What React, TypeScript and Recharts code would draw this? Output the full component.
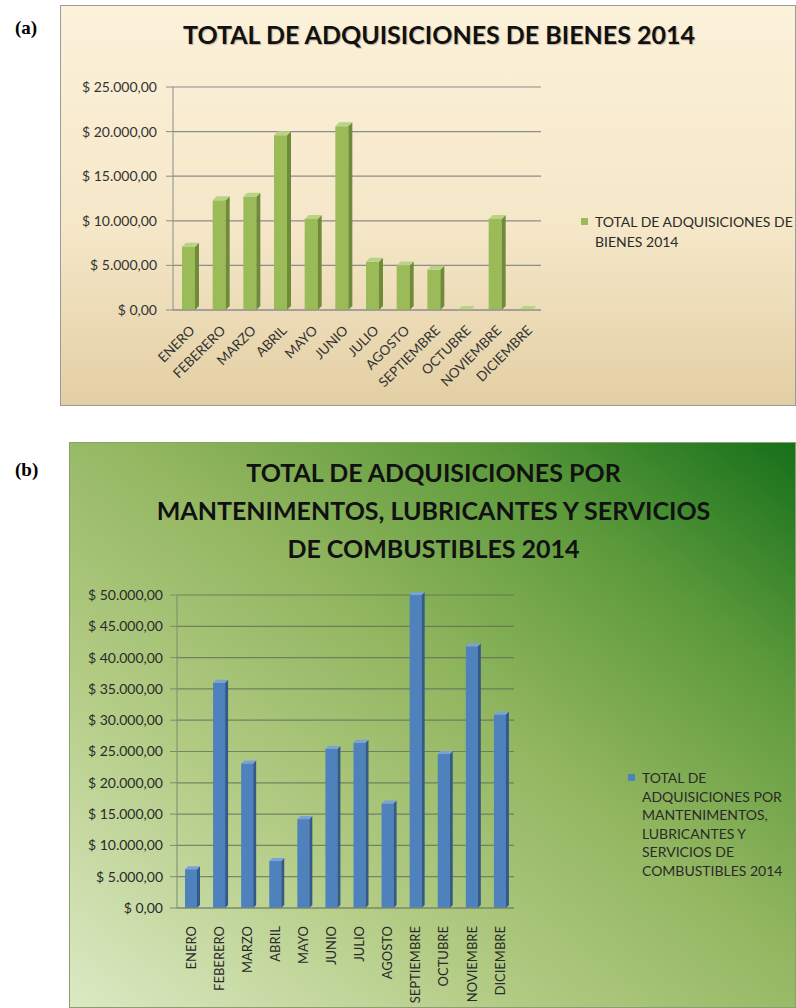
import React from "react";
import { BarChart, Bar, XAxis, YAxis, CartesianGrid, Legend } from "recharts";

const MONTHS = [
  "ENERO",
  "FEBERERO",
  "MARZO",
  "ABRIL",
  "MAYO",
  "JUNIO",
  "JULIO",
  "AGOSTO",
  "SEPTIEMBRE",
  "OCTUBRE",
  "NOVIEMBRE",
  "DICIEMBRE",
];

// (a) bienes
const BIENES_2014 = [7100, 12300, 12700, 19600, 10200, 20600, 5400, 5000, 4500, 0, 10200, 0];
const BIENES_TICKS = [0, 5000, 10000, 15000, 20000, 25000];
const TITLE_A = "TOTAL DE ADQUISICIONES DE BIENES 2014";
const LEGEND_A = ["TOTAL DE ADQUISICIONES DE", "BIENES 2014"];

// (b) mantenimientos, lubricantes y combustibles
const MANT_2014 = [6200, 36000, 23100, 7500, 14200, 25400, 26400, 16700, 50000, 24600, 41800, 30900];
const MANT_TICKS = [0, 5000, 10000, 15000, 20000, 25000, 30000, 35000, 40000, 45000, 50000];
const TITLE_B = [
  "TOTAL DE ADQUISICIONES POR",
  "MANTENIMENTOS, LUBRICANTES Y SERVICIOS",
  "DE COMBUSTIBLES 2014",
];
const LEGEND_B = [
  "TOTAL DE",
  "ADQUISICIONES POR",
  "MANTENIMENTOS,",
  "LUBRICANTES Y",
  "SERVICIOS DE",
  "COMBUSTIBLES 2014",
];

const FONT = "Lato, 'Open Sans', sans-serif";

const dataA = MONTHS.map((m, i) => ({ mes: m, valor: BIENES_2014[i] }));
const dataB = MONTHS.map((m, i) => ({ mes: m, valor: MANT_2014[i] }));

// "$ 25.000,00"
function money(v: number) {
  const s = Math.round(v).toString().replace(/\B(?=(\d{3})+(?!\d))/g, ".");
  return "$ " + s + ",00";
}

// fake excel 3d column: front, right side, top
function bar3d(front: string, side: string, top: string, d: number) {
  return (props: any) => {
    const { x, y, width, height } = props;
    if (x == null || y == null) return null;
    const h = Math.max(height || 0, 0);
    const w = width;
    return (
      <g>
        <rect x={x} y={y} width={w} height={h} fill={front} />
        <polygon
          points={`${x + w},${y} ${x + w + d},${y - d} ${x + w + d},${y + h - d} ${x + w},${y + h}`}
          fill={side}
        />
        <polygon
          points={`${x},${y} ${x + d},${y - d} ${x + w + d},${y - d} ${x + w},${y}`}
          fill={top}
        />
      </g>
    );
  };
}

function DiagTick(props: any) {
  const { x, y, payload } = props;
  return (
    <text
      x={x + 4}
      y={y + 10}
      transform={`rotate(-45, ${x + 4}, ${y + 10})`}
      textAnchor="end"
      dy="0.35em"
      fontSize={13.5}
      fontFamily={FONT}
      fill="#333"
    >
      {payload.value}
    </text>
  );
}

function VertTick(props: any) {
  const { x, y, payload } = props;
  return (
    <text
      x={x}
      y={y + 10}
      transform={`rotate(-90, ${x}, ${y + 10})`}
      textAnchor="end"
      dy="0.36em"
      fontSize={13}
      fontFamily={FONT}
      fill="#2a2a2a"
    >
      {payload.value}
    </text>
  );
}

function legendBox(lines: string[], color: string, lineHeight: number) {
  return () => (
    <div style={{ fontFamily: FONT, fontSize: 14, color: "#2a2a2a", lineHeight: `${lineHeight}px` }}>
      {lines.map((l, i) => (
        <div key={i} style={{ position: "relative", paddingLeft: 14, whiteSpace: "nowrap" }}>
          {i === 0 && (
            <span
              style={{
                position: "absolute",
                left: 0,
                top: lineHeight / 2 - 4,
                width: 7,
                height: 7,
                background: color,
              }}
            />
          )}
          {l}
        </div>
      ))}
    </div>
  );
}

export default function App() {
  return (
    <div
      style={{
        position: "absolute",
        left: 0,
        top: 0,
        width: 796,
        height: 1008,
        overflow: "hidden",
        background: "#fff",
      }}
    >
      <div
        style={{
          position: "absolute",
          left: 15,
          top: 17,
          fontFamily: "'Liberation Serif', serif",
          fontWeight: 700,
          fontSize: 19,
        }}
      >
        (a)
      </div>
      <div
        style={{
          position: "absolute",
          left: 15,
          top: 459,
          fontFamily: "'Liberation Serif', serif",
          fontWeight: 700,
          fontSize: 19,
        }}
      >
        (b)
      </div>

      {/* panel a */}
      <div
        style={{
          position: "absolute",
          left: 60,
          top: 5,
          width: 736,
          height: 401,
          boxSizing: "border-box",
          border: "1px solid #9a9a9a",
          background: "linear-gradient(to bottom, #fcf1da 0%, #f5e7c8 55%, #e3cfa4 100%)",
        }}
      >
        <div
          style={{
            position: "absolute",
            left: 0,
            top: 13,
            width: 756,
            textAlign: "center",
            fontFamily: FONT,
            fontWeight: 700,
            fontSize: 25,
            color: "#111",
            textShadow: "1px 1px 1px rgba(0,0,0,0.25)",
          }}
        >
          {TITLE_A}
        </div>
        <BarChart
          width={734}
          height={399}
          data={dataA}
          margin={{ top: 81, right: 254, bottom: 65, left: 0 }}
          barSize={13}
        >
          <CartesianGrid vertical={false} stroke="#8c8c8c" strokeWidth={1.2} />
          <XAxis
            dataKey="mes"
            interval={0}
            tick={<DiagTick />}
            tickLine={false}
            axisLine={{ stroke: "#8c8c8c" }}
          />
          <YAxis
            width={112}
            domain={[0, 25000]}
            ticks={BIENES_TICKS}
            tickFormatter={money}
            tick={{ fontSize: 14, fontFamily: FONT, fill: "#333" }}
            tickSize={7}
            tickMargin={9}
            axisLine={{ stroke: "#8c8c8c" }}
            tickLine={{ stroke: "#8c8c8c" }}
          />
          <Legend
            layout="vertical"
            align="center"
            verticalAlign="middle"
            wrapperStyle={{ left: 520, top: 206, width: 215 }}
            content={legendBox(LEGEND_A, "#9bbb59", 20)}
          />
          <Bar
            dataKey="valor"
            name={TITLE_A}
            fill="#9bbb59"
            shape={bar3d("#9bbb59", "#6f8a38", "#b9d286", 4)}
            isAnimationActive={false}
          />
        </BarChart>
      </div>

      {/* panel b */}
      <div
        style={{
          position: "absolute",
          left: 69,
          top: 442,
          width: 727,
          height: 566,
          boxSizing: "border-box",
          border: "1px solid #8aa070",
          background:
            "linear-gradient(to top right, #dce9c4 0%, #b3cc85 30%, #92b660 55%, #5d9a3c 78%, #16701a 100%)",
        }}
      >
        <div
          style={{
            position: "absolute",
            left: 0,
            top: 10,
            width: 727,
            textAlign: "center",
            fontFamily: FONT,
            fontWeight: 700,
            fontSize: 25,
            lineHeight: "38px",
            color: "#111",
          }}
        >
          {TITLE_B.map((t, i) => (
            <div key={i}>{t}</div>
          ))}
        </div>
        <BarChart
          width={725}
          height={564}
          data={dataB}
          margin={{ top: 152, right: 281, bottom: 69, left: 0 }}
          barSize={12}
        >
          <CartesianGrid vertical={false} stroke="rgba(95,100,85,0.7)" strokeWidth={1.2} />
          <XAxis
            dataKey="mes"
            interval={0}
            tick={<VertTick />}
            tickLine={false}
            axisLine={{ stroke: "#7f8a70" }}
          />
          <YAxis
            width={107}
            domain={[0, 50000]}
            ticks={MANT_TICKS}
            tickFormatter={money}
            tick={{ fontSize: 14, fontFamily: FONT, fill: "#2a2a2a" }}
            tickSize={7}
            tickMargin={7}
            axisLine={{ stroke: "#7f8a70" }}
            tickLine={{ stroke: "#7f8a70" }}
          />
          <Legend
            layout="vertical"
            align="center"
            verticalAlign="middle"
            wrapperStyle={{ left: 558, top: 326, width: 168 }}
            content={legendBox(LEGEND_B, "#4f81bd", 18.6)}
          />
          <Bar
            dataKey="valor"
            name={LEGEND_B.join(" ")}
            fill="#4f81bd"
            shape={bar3d("#4f81bd", "#345a8c", "#7ba1d6", 3)}
            isAnimationActive={false}
          />
        </BarChart>
      </div>
    </div>
  );
}
